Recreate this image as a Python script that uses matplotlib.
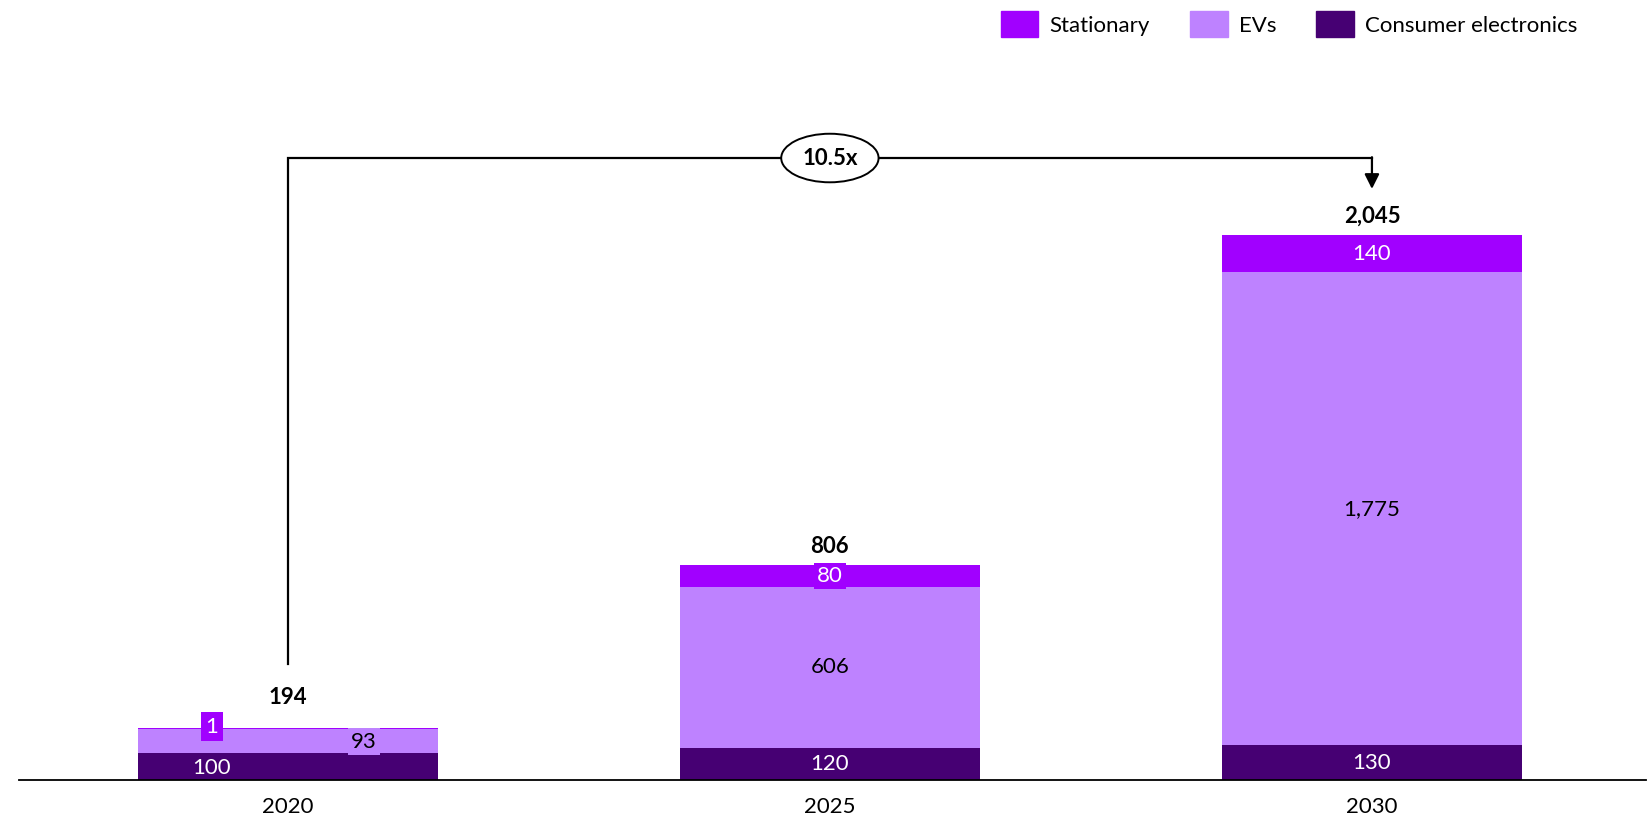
import matplotlib.pyplot as plt
from matplotlib.patches import Patch

plt.rcParams['font.family'] = ['Lato', 'DejaVu Sans']

years = ['2020', '2025', '2030']
consumer = [100, 120, 130]
evs = [93, 606, 1775]
stationary = [1, 80, 140]
totals = [194, 806, 2045]
growth = '10.5x'

c_stat = '#A100FF'
c_ev = '#BE82FF'
c_ce = '#460073'

fig = plt.figure(figsize=(16.52, 8.18), dpi=100)
ax = fig.add_axes([0.0115, 0.0465, 0.985, 0.9535])

x = list(range(len(years)))
w = 0.553
ax.bar(x, consumer, w, color=c_ce)
ax.bar(x, evs, w, bottom=consumer, color=c_ev)
bottoms = [c + e for c, e in zip(consumer, evs)]
ax.bar(x, stationary, w, bottom=bottoms, color=c_stat)

fs = 16
for i in x:
    ce, ev, st = consumer[i], evs[i], stationary[i]
    top_pad = 72
    if totals[i] < 300:
        # thin bar: labels spread sideways with small boxes
        ax.text(i - 0.14, ce / 2 - 5, f'{ce:,}', ha='center', va='center',
                color='white', fontsize=fs)
        ax.text(i - 0.14, ce + ev + st + 5, f'{st:,}', ha='center', va='center',
                color='white', fontsize=fs,
                bbox=dict(boxstyle='square,pad=0.2', fc=c_stat, ec='none'))
        ax.text(i + 0.14, ce + ev / 2 - 3, f'{ev:,}', ha='center', va='center',
                color='black', fontsize=fs,
                bbox=dict(boxstyle='square,pad=0.15', fc=c_ev, ec='none'))
        top_pad = 115
    else:
        ax.text(i, ce / 2, f'{ce:,}', ha='center', va='center',
                color='white', fontsize=fs)
        ax.text(i, ce + ev / 2, f'{ev:,}', ha='center', va='center',
                color='black', fontsize=fs)
        box = None
        if st < 100:
            box = dict(boxstyle='square,pad=0.15', fc=c_stat, ec='none')
        ax.text(i, ce + ev + st / 2, f'{st:,}', ha='center', va='center',
                color='white', fontsize=fs, bbox=box)
    ax.text(i, totals[i] + top_pad, f'{totals[i]:,}', ha='center', va='center',
            color='black', fontsize=fs, fontweight='bold')

# growth bracket from first to last bar
y_br = 2334
ax.plot([0, 0, 2, 2], [435, y_br, y_br, y_br], color='black', lw=1.6,
        solid_joinstyle='miter')
ax.annotate('', xy=(2, 2218), xytext=(2, y_br + 3),
            arrowprops=dict(arrowstyle='-|>', lw=1.6, color='black',
                            mutation_scale=22, shrinkA=0, shrinkB=0))
ax.text(1, y_br, growth, ha='center', va='center', fontsize=fs,
        fontweight='bold',
        bbox=dict(boxstyle='ellipse,pad=0.3', fc='white', ec='black', lw=1.4))

ax.set_xlim(-0.496, 2.506)
ax.set_ylim(0, 2927)
ax.set_xticks(x)
ax.set_xticklabels(years, fontsize=fs)
ax.tick_params(axis='x', length=0, pad=12)
ax.set_yticks([])
for s in ['top', 'right', 'left']:
    ax.spines[s].set_visible(False)
ax.spines['bottom'].set_linewidth(1.3)

handles = [Patch(color=c_stat, label='Stationary'),
           Patch(color=c_ev, label='EVs'),
           Patch(color=c_ce, label='Consumer electronics')]
fig.legend(handles=handles, loc='upper right', bbox_to_anchor=(0.967, 1.011),
           ncol=3, frameon=False, fontsize=fs, handlelength=1.7,
           handleheight=1.45, columnspacing=1.8, handletextpad=0.5)

fig.savefig('out.png', dpi=100)
